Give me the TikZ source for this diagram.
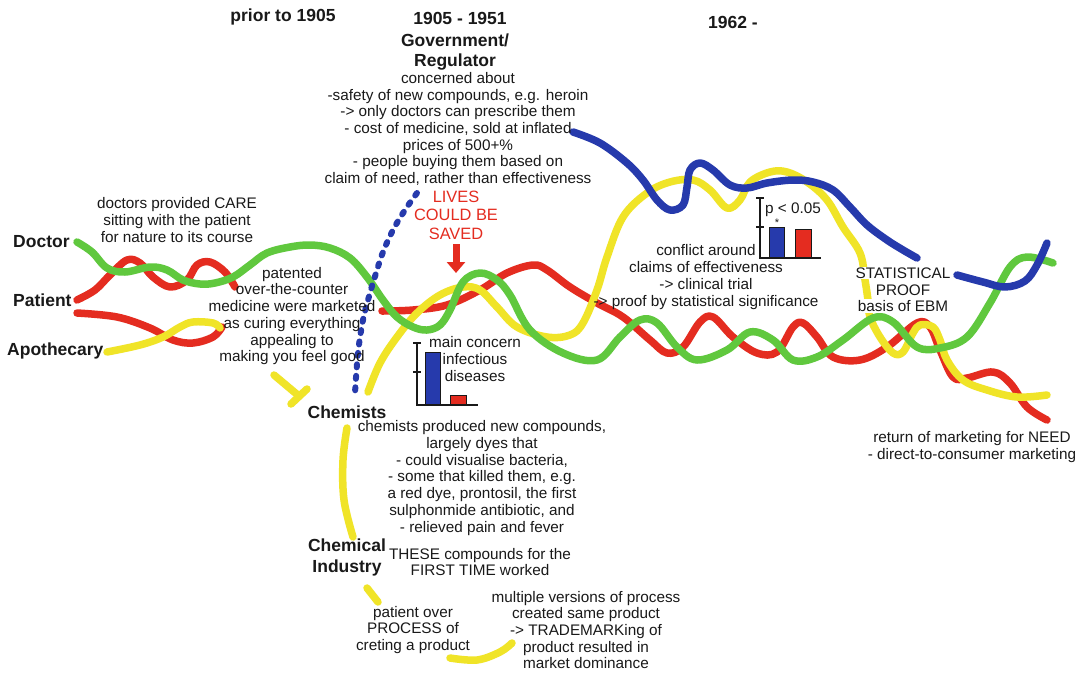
\documentclass[tikz,border=0pt]{standalone}
\usepackage{fontspec}
\setmainfont{Liberation Sans}
\usetikzlibrary{arrows.meta}
\definecolor{pgreen}{RGB}{96,200,62}
\definecolor{pred}{RGB}{228,44,32}
\definecolor{pyellow}{RGB}{240,228,40}
\definecolor{pblue}{RGB}{38,58,172}
\definecolor{ink}{RGB}{25,25,25}
\begin{document}
\begin{tikzpicture}[x=1pt,y=-1pt,
  curve/.style={line width=7.5pt, line cap=round, line join=round},
  wave/.style={curve, smooth, tension=0.6},
  body/.style={font=\fontsize{15.3}{16.7}\selectfont, text=ink, align=center, inner sep=0pt},
  head/.style={font=\fontsize{17.5}{20.5}\selectfont\bfseries, text=ink, align=center, inner sep=0pt},
  alarm/.style={font=\fontsize{16.4}{18.4}\selectfont, text=pred, align=center, inner sep=0pt},
  axis/.style={draw=ink, line width=1.4pt},
  bar/.style={draw=ink, line width=0.7pt}]

% canvas
\fill[white] (0,0) rectangle (1084,673);
\useasboundingbox (0,0) rectangle (1084,673);

% ---------- strands ----------
% patient (red)
\draw[wave, pred] plot coordinates {(77,300) (95,290) (110,275) (127,260) (140,263) (153,277) (170,287) (187,280) (197,265) (210,262) (225,272) (235,287)};
\draw[wave, pred] plot coordinates {(77,313) (117,317) (150,328) (173,340) (193,343) (213,337) (222,327)};
\draw[wave, pred] plot coordinates {(382,311) (413,310) (447,305) (480,290) (507,273) (533,265) (547,270) (570,287) (597,303) (623,317) (650,340) (667,353) (683,347) (700,322) (713,317) (733,337) (757,353) (777,352) (793,327) (803,323) (817,337) (833,357) (860,360) (887,347) (917,323) (930,327) (940,350) (953,377) (967,378) (993,372) (1010,383) (1027,407) (1047,420)};

% apothecary / chemists (yellow)
\draw[wave, pyellow] plot coordinates {(107,352) (140,345) (163,337) (180,327) (193,322) (213,323) (220,328)};
\draw[wave, pyellow] plot coordinates {(368,392) (380,363) (397,337) (417,313) (440,295) (463,287) (480,290) (497,307) (517,327) (547,337) (570,335) (583,323) (597,290) (607,257) (623,217) (647,193) (670,182) (693,180) (710,190) (727,208) (740,200) (750,182) (770,172) (787,172) (807,182) (827,200) (843,227) (860,253) (865,280) (868,300) (870,317) (880,337) (893,353) (903,352) (913,333) (920,325) (933,327) (940,340) (947,360) (963,380) (987,390) (1017,397) (1047,395)};
\draw[wave, pyellow] plot coordinates {(347,428) (343,460) (344,500) (353,537)};
\draw[curve, pyellow] (367,588) -- (378,602);
\draw[wave, pyellow] plot coordinates {(450,658) (477,660) (500,652) (512,643)};
% inhibition bar towards the chemists
\coordinate (tstart) at (274,375);
\coordinate (tend) at (299,396);
\draw[curve, pyellow] (tstart) -- (tend);
\draw[curve, pyellow] (291,404) -- (307,389);

% doctor (green)
\draw[wave, pgreen] plot coordinates {(77,242) (92,252) (107,268) (125,272) (150,267) (167,270) (183,280) (200,284) (215,283) (233,277) (250,265) (267,253) (290,247) (310,245) (330,248) (350,258) (367,277) (383,300) (397,317) (413,327) (427,330) (440,325) (450,310) (463,282) (480,273) (497,280) (510,295) (530,330) (563,353) (597,360) (620,337) (640,320) (657,323) (677,347) (697,360) (727,350) (750,332) (773,340) (793,360) (817,357) (843,340) (873,318) (893,322) (917,347) (940,348) (967,337) (990,303) (1010,267) (1027,257) (1053,263)};

% government (blue)
\draw[pblue, line width=6pt, line cap=round, dash pattern=on 3pt off 8.5pt, smooth, tension=0.6] plot coordinates {(417,193) (405,210) (393,230) (383,252) (377,270) (370,293) (363,320) (358,353) (355,393)};
\draw[wave, pblue] plot coordinates {(573,132) (600,143) (627,163) (643,180) (657,200) (670,210) (683,205) (687,187) (690,170) (700,163) (713,170) (730,185) (747,188) (767,183) (793,180) (813,182) (833,190) (850,207) (867,225) (887,240) (903,250) (917,258)};
\draw[wave, pblue] plot coordinates {(957,275) (983,282) (1005,287) (1025,281) (1037,265) (1047,243)};

% ---------- period headings ----------
\node[head] (p1) at (283,17) {prior to 1905};
\node[head] (p2) at (460,18) {1905 - 1951};
\node[head] (p3) at (733,22) {1962 -};

% ---------- actors ----------
\node[head, anchor=west] (doctor) at (13,242) {Doctor};
\node[head, anchor=west] (patient) at (13,300) {Patient};
\node[head, anchor=west] (apoth) at (7,351) {Apothecary};
\node[head] (chem) at (347,412) {Chemists};
\node[head, font=\fontsize{17.5}{21}\selectfont\bfseries] (industry) at (347,557) {Chemical\\Industry};
\node[head] (gov) at (455,52) {Government/\\Regulator};

% ---------- notes ----------
\node[body] (govnote) at (458,129) {concerned about\\-safety of new compounds, e.g. heroin\\-> only doctors can prescribe them\\- cost of medicine, sold at inflated\\prices of 500+\%\\- people buying them based on\\claim of need, rather than effectiveness};
\node[alarm] (lives) at (456,215) {LIVES\\COULD BE\\SAVED};
\coordinate (arrowtop) at (456,244);
\coordinate (arrowtip) at (456,273);
\draw[pred, line width=7pt, -{Triangle[length=11pt,width=18pt]}] (arrowtop) -- (arrowtip);

\node[body] (care) at (177,220) {doctors provided CARE\\sitting with the patient\\for nature to its course};
\node[body] (otc) at (292,316) {patented\\over-the-counter\\medicine were marketed\\as curing everything\\appealing to\\making you feel good};
\node[body] (concern) at (475,359) {main concern\\infectious\\diseases};
\node[body] (dyes) at (482,478) {chemists produced new compounds,\\largely dyes that\\- could visualise bacteria,\\- some that killed them, e.g.\\a red dye, prontosil, the first\\sulphonmide antibiotic, and\\- relieved pain and fever};
\node[body] (worked) at (480,562) {THESE compounds for the\\FIRST TIME worked};
\node[body] (process) at (413,630) {patient over\\PROCESS of\\creting a product};
\node[body] (trademark) at (586,630) {multiple versions of process\\created same product\\-> TRADEMARKing of\\product resulted in\\market dominance};
\node[body] (conflict) at (706,277) {conflict around\\claims of effectiveness\\-> clinical trial\\-> proof by statistical significance};
\node[body, fill=white, inner sep=1pt] (stat1) at (903,273) {STATISTICAL};
\node[body, fill=white, inner sep=1pt] (stat2) at (903,290) {PROOF};
\node[body, fill=white, inner sep=1pt] (stat3) at (903,306) {basis of EBM};
\node[body] (need) at (972,447) {return of marketing for NEED\\- direct-to-consumer marketing};

% ---------- bar charts ----------
% infectious diseases
\draw[bar, fill=pblue] (425,352) rectangle (440,405);
\draw[bar, fill=pred] (450,395) rectangle (466,405);
\draw[axis] (417,343) -- (417,405) -- (478,405);
\draw[axis] (413,343) -- (421,343);
\draw[axis] (413,372) -- (421,372);
% significance
\draw[bar, fill=pblue] (769,227) rectangle (784,258);
\draw[bar, fill=pred] (795,229) rectangle (811,258);
\draw[axis] (760,198) -- (760,258) -- (821,258);
\draw[axis] (756,198) -- (764,198);
\draw[axis] (756,227) -- (764,227);
\node[body] (pval) at (793,210) {p < 0.05};
\node[body, font=\fontsize{11}{12}\selectfont] (star) at (777,223) {*};
\end{tikzpicture}
\end{document}
